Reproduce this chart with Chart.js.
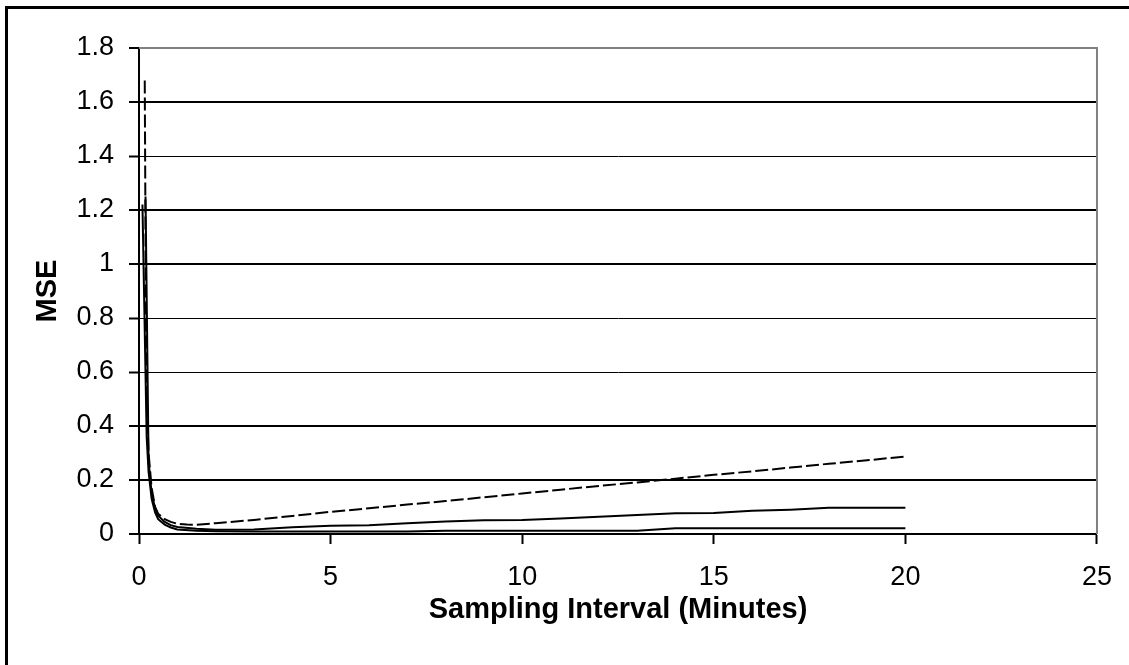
<!DOCTYPE html>
<html>
<head>
<meta charset="utf-8">
<script src="https://cdn.jsdelivr.net/npm/chart.js@4/dist/chart.umd.min.js"></script>
<style>
  html, body { margin: 0; padding: 0; background: #fff; overflow: hidden; }
  #c { display: block; }
</style>
</head>
<body>
<canvas id="c" width="1129" height="665"></canvas>
<script>
// Sampling interval (minutes) vs. MSE for three curves
const xDashed = [0.15, 0.19, 0.25, 0.33, 0.42, 0.5, 0.67, 0.83, 1, 1.25, 1.5, 2,
                 3, 4, 5, 6, 7, 8, 9, 10, 11, 12, 13, 14, 15, 16, 17, 18, 19, 20];
const yDashed = [1.68, 0.55, 0.30, 0.17, 0.10, 0.075, 0.055, 0.045, 0.038, 0.035, 0.034, 0.040,
                 0.052, 0.067, 0.082, 0.095, 0.109, 0.122, 0.136, 0.150, 0.164, 0.178, 0.191,
                 0.205, 0.219, 0.232, 0.246, 0.260, 0.273, 0.287];

const xMid = [0.17, 0.25, 0.33, 0.42, 0.5, 0.67, 0.83, 1, 1.5, 2,
              3, 4, 5, 6, 7, 8, 9, 10, 11, 12, 13, 14, 15, 16, 17, 18, 19, 20];
const yMid = [1.25, 0.27, 0.15, 0.095, 0.068, 0.045, 0.033, 0.026, 0.019, 0.016,
              0.017, 0.025, 0.031, 0.032, 0.040, 0.046, 0.051, 0.052, 0.057, 0.064, 0.070,
              0.077, 0.078, 0.086, 0.090, 0.097, 0.097, 0.097];

const xLow = [0.09, 0.2, 0.25, 0.33, 0.42, 0.5, 0.67, 0.83, 1, 1.5, 2,
              3, 4, 5, 6, 7, 8, 9, 10, 11, 12, 13, 14, 15, 16, 17, 18, 19, 20];
const yLow = [1.22, 0.36, 0.23, 0.13, 0.08, 0.055, 0.035, 0.024, 0.017, 0.012, 0.010,
              0.009, 0.009, 0.009, 0.009, 0.009, 0.012, 0.012, 0.012, 0.012, 0.012, 0.012,
              0.021, 0.021, 0.021, 0.021, 0.021, 0.021, 0.021];

const yTickValues = [0, 0.2, 0.4, 0.6, 0.8, 1, 1.2, 1.4, 1.6, 1.8];
const yTickLabels = ['0', '0.2', '0.4', '0.6', '0.8', '1', '1.2', '1.4', '1.6', '1.8'];
const xTickValues = [0, 5, 10, 15, 20, 25];
const xTickLabels = ['0', '5', '10', '15', '20', '25'];

const thinGridValues = [0.6, 0.8, 1.4];

const toPoints = (xs, ys) => xs.map((x, i) => ({ x: x, y: ys[i] }));

// outer frame (top and left edges) plus the gray top/right edges of the plot area
const frames = {
  id: 'frames',
  beforeDraw(chart) {
    const { ctx } = chart;
    ctx.save();
    ctx.fillStyle = '#fff';
    ctx.fillRect(0, 0, chart.width, chart.height);
    ctx.strokeStyle = '#000';
    ctx.lineWidth = 3;
    ctx.beginPath();
    ctx.moveTo(6.5, chart.height + 5);
    ctx.lineTo(6.5, 7.5);
    ctx.lineTo(chart.width + 5, 7.5);
    ctx.stroke();
    ctx.restore();
  },
  beforeDatasetsDraw(chart) {
    const { ctx, chartArea: a } = chart;
    ctx.save();
    ctx.strokeStyle = '#808080';
    ctx.lineWidth = 2;
    ctx.beginPath();
    ctx.moveTo(a.left, a.top);
    ctx.lineTo(a.right, a.top);
    ctx.lineTo(a.right, a.bottom);
    ctx.stroke();
    ctx.restore();
  }
};

const tickFont = { family: '"Liberation Sans", Arial, sans-serif', size: 27 };
const titleFont = { family: '"Liberation Sans", Arial, sans-serif', size: 29, weight: 'bold' };

new Chart(document.getElementById('c'), {
  type: 'line',
  data: {
    datasets: [
      { data: toPoints(xDashed, yDashed), borderColor: '#000', borderWidth: 2,
        borderDash: [13, 4], pointRadius: 0, tension: 0, fill: false },
      { data: toPoints(xMid, yMid), borderColor: '#000', borderWidth: 2,
        pointRadius: 0, tension: 0, fill: false },
      { data: toPoints(xLow, yLow), borderColor: '#000', borderWidth: 2,
        pointRadius: 0, tension: 0, fill: false }
    ]
  },
  options: {
    responsive: false,
    animation: false,
    devicePixelRatio: 1,
    layout: { padding: { left: 0, top: 48, right: 32, bottom: 0 } },
    plugins: { legend: { display: false }, tooltip: { enabled: false } },
    scales: {
      x: {
        type: 'linear',
        min: 0, max: 25,
        afterBuildTicks: s => { s.ticks = xTickValues.map(v => ({ value: v })); },
        afterFit: s => { s.height = 131; },
        ticks: { color: '#000', font: tickFont, padding: 17, maxRotation: 0,
                 callback: (v, i) => xTickLabels[i] },
        grid: { drawOnChartArea: false, drawTicks: true, tickLength: 10,
                tickColor: '#000', tickWidth: 2 },
        border: { color: '#000', width: 2 },
        title: { display: true, text: 'Sampling Interval (Minutes)', color: '#000',
                 font: titleFont, padding: { top: 0, bottom: 38 } }
      },
      y: {
        type: 'linear',
        min: 0, max: 1.8,
        afterBuildTicks: s => { s.ticks = yTickValues.map(v => ({ value: v })); },
        afterFit: s => { s.width = 139; },
        ticks: { color: '#000', font: tickFont, padding: 15,
                 callback: (v, i) => yTickLabels[i] },
        grid: {
          color: c => (c.tick && c.tick.value === 1.8) ? 'rgba(0,0,0,0)' : '#000',
          lineWidth: c => (c.tick && thinGridValues.includes(c.tick.value)) ? 1 : 2,
          drawTicks: true, tickLength: 10, tickColor: '#000', tickWidth: 2
        },
        border: { color: '#000', width: 2 },
        title: { display: true, text: 'MSE', color: '#000', font: titleFont,
                 padding: { top: 31, bottom: 0 } }
      }
    }
  },
  plugins: [frames]
});
</script>
</body>
</html>
